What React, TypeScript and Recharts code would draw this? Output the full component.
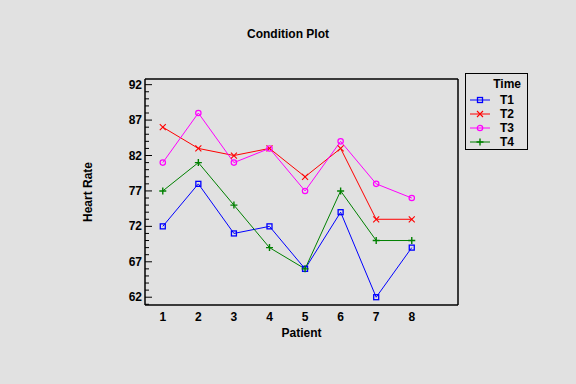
import { LineChart, Line, XAxis, YAxis } from "recharts";

const patients = [1, 2, 3, 4, 5, 6, 7, 8];
const t1 = [72, 78, 71, 72, 66, 74, 62, 69];
const t2 = [86, 83, 82, 83, 79, 83, 73, 73];
const t3 = [81, 88, 81, 83, 77, 84, 78, 76];
const t4 = [77, 81, 75, 69, 66, 77, 70, 70];
const majorTicks = [62, 67, 72, 77, 82, 87, 92];
const allTicks = Array.from({ length: 32 }, (_, i) => 61 + i);

const data = patients.map((p, i) => ({ patient: p, T1: t1[i], T2: t2[i], T3: t3[i], T4: t4[i] }));

const FONT = "'Liberation Sans', Arial, sans-serif";
const BG = "#e1e1e1";

type Shape = "square" | "x" | "circle" | "plus";

const series: { key: string; color: string; shape: Shape }[] = [
  { key: "T1", color: "#0000ff", shape: "square" },
  { key: "T2", color: "#ff0000", shape: "x" },
  { key: "T3", color: "#ff00ff", shape: "circle" },
  { key: "T4", color: "#008000", shape: "plus" },
];

function Marker({ cx, cy, color, shape }: { cx: number; cy: number; color: string; shape: Shape }) {
  if (cx == null || cy == null) return null;
  if (shape === "square")
    return <rect x={cx - 2.5} y={cy - 2.5} width={5} height={5} fill="none" stroke={color} strokeWidth={1.3} />;
  if (shape === "circle") return <circle cx={cx} cy={cy} r={2.7} fill="none" stroke={color} strokeWidth={1.2} />;
  if (shape === "x")
    return (
      <path d={`M${cx - 3},${cy - 3}L${cx + 3},${cy + 3}M${cx - 3},${cy + 3}L${cx + 3},${cy - 3}`} stroke={color} strokeWidth={1.1} />
    );
  return <path d={`M${cx - 3.5},${cy}L${cx + 3.5},${cy}M${cx},${cy - 3.5}L${cx},${cy + 3.5}`} stroke={color} strokeWidth={1.4} />;
}

function LeftTick(props: any) {
  const { x, y, payload } = props;
  const major = majorTicks.includes(payload.value);
  return (
    <g>
      <line x1={x} x2={x + (major ? 7 : 4)} y1={y} y2={y} stroke="#000" />
      {major && (
        <text x={x - 3} y={y + 4} textAnchor="end" fontSize={12} fontWeight="bold" fill="#000" fontFamily={FONT}>
          {payload.value}
        </text>
      )}
    </g>
  );
}

function RightTick(props: any) {
  const { x, y, payload } = props;
  const major = majorTicks.includes(payload.value);
  return <line x1={x} x2={x - (major ? 7 : 4)} y1={y} y2={y} stroke="#000" />;
}

function BottomTick(props: any) {
  const { x, y, payload } = props;
  return (
    <text x={x} y={y + 16} textAnchor="middle" fontSize={12} fontWeight="bold" fill="#000" fontFamily={FONT}>
      {payload.value}
    </text>
  );
}

function LegendBox() {
  return (
    <div
      style={{
        position: "absolute",
        left: 465,
        top: 73,
        width: 63,
        height: 77,
        border: "1px solid #000",
        background: BG,
        fontFamily: FONT,
        fontWeight: "bold",
        fontSize: 12,
        boxSizing: "border-box",
        paddingTop: 3,
      }}
    >
      <div style={{ textAlign: "right", paddingRight: 6, height: 16 }}>Time</div>
      {series.map((s) => (
        <div key={s.key} style={{ display: "flex", alignItems: "center", height: 14 }}>
          <svg width={28} height={12} style={{ marginLeft: 2 }}>
            <line x1={2} x2={22} y1={6} y2={6} stroke={s.color} />
            <Marker cx={12} cy={6} color={s.color} shape={s.shape} />
          </svg>
          <span style={{ marginLeft: 4 }}>{s.key}</span>
        </div>
      ))}
    </div>
  );
}

export default function App() {
  return (
    <div style={{ position: "absolute", left: 0, top: 0, width: 576, height: 384, background: BG }}>
      <div
        style={{
          position: "absolute",
          top: 27,
          left: 0,
          width: 576,
          textAlign: "center",
          fontFamily: FONT,
          fontWeight: "bold",
          fontSize: 12,
        }}
      >
        Condition Plot
      </div>
      <LineChart width={576} height={384} data={data} margin={{ top: 78, right: 108, bottom: 49, left: 100 }}>
        <XAxis
          dataKey="patient"
          type="number"
          domain={[0.5, 9.3]}
          ticks={patients}
          height={30}
          tickSize={0}
          tickMargin={0}
          tick={<BottomTick />}
          axisLine={{ stroke: "#000", strokeWidth: 1.5 }}
          label={{ value: "Patient", position: "insideBottom", offset: -2, fontSize: 12, fontWeight: "bold", fill: "#000", fontFamily: FONT }}
        />
        <XAxis
          xAxisId="top"
          orientation="top"
          dataKey="patient"
          type="number"
          domain={[0.5, 9.3]}
          height={1}
          tick={false}
          tickLine={false}
          axisLine={{ stroke: "#000", strokeWidth: 1.5 }}
        />
        <YAxis
          yAxisId="left"
          type="number"
          domain={[60.9, 92.8]}
          ticks={allTicks}
          interval={0}
          width={45}
          tickSize={0}
          tickMargin={0}
          tick={<LeftTick />}
          axisLine={{ stroke: "#000", strokeWidth: 1.5 }}
          label={{ value: "Heart Rate", angle: -90, position: "insideLeft", offset: -12, fontSize: 12, fontWeight: "bold", fill: "#000", fontFamily: FONT, style: { textAnchor: "middle" } }}
        />
        <YAxis
          yAxisId="right"
          orientation="right"
          type="number"
          domain={[60.9, 92.8]}
          ticks={allTicks}
          interval={0}
          width={10}
          tickSize={0}
          tickMargin={0}
          tick={<RightTick />}
          axisLine={{ stroke: "#000", strokeWidth: 1.5 }}
        />
        {series.map((s) => (
          <Line
            key={s.key}
            yAxisId="left"
            dataKey={s.key}
            stroke={s.color}
            strokeWidth={1}
            isAnimationActive={false}
            dot={(p: any) => <Marker key={`${s.key}-${p.index}`} cx={p.cx} cy={p.cy} color={s.color} shape={s.shape} />}
            activeDot={false}
          />
        ))}
      </LineChart>
      <LegendBox />
    </div>
  );
}
